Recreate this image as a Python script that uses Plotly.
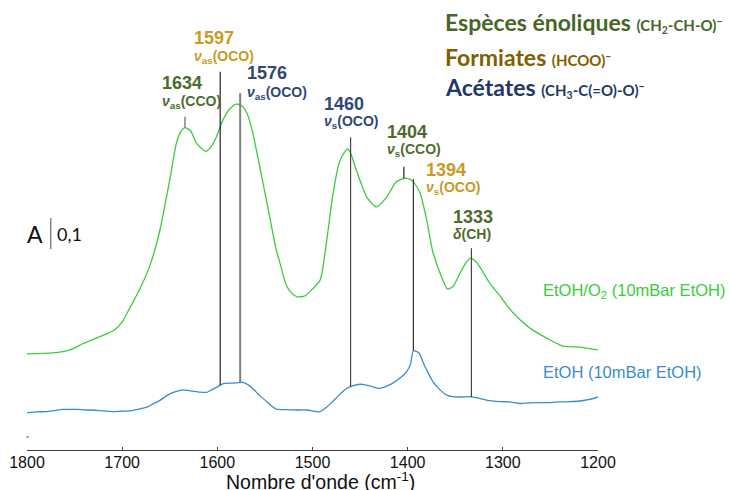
import numpy as np
import plotly.graph_objects as go

# ---- IR spectra (absorbance, spectra stacked on a common axis) ----
wn_etoh_o2 = [1800, 1773, 1755, 1742, 1724, 1708, 1700, 1692, 1682, 1671, 1661, 1650,
              1643, 1638, 1634, 1628, 1622, 1612, 1606, 1601, 1594, 1587, 1580, 1574,
              1569, 1564, 1559, 1552, 1545, 1538, 1533, 1528, 1522, 1516, 1508, 1501,
              1492, 1485, 1479, 1472, 1467, 1463, 1460, 1454, 1443, 1433, 1422, 1412,
              1403, 1398, 1394, 1387, 1380, 1374, 1366, 1358, 1352, 1345, 1339, 1334,
              1329, 1324, 1314, 1303, 1290, 1272, 1254, 1237, 1219, 1200]
abs_etoh_o2 = [0.310, 0.313, 0.323, 0.342, 0.365, 0.387, 0.413, 0.458, 0.516, 0.594, 0.700, 0.871,
               0.990, 1.029, 1.040, 1.029, 0.990, 0.963, 0.981, 1.010, 1.065, 1.100, 1.116, 1.110,
               1.087, 1.039, 0.968, 0.861, 0.752, 0.645, 0.590, 0.535, 0.506, 0.494, 0.497, 0.516,
               0.548, 0.677, 0.816, 0.926, 0.958, 0.971, 0.958, 0.903, 0.816, 0.784, 0.816, 0.865,
               0.877, 0.874, 0.865, 0.829, 0.742, 0.645, 0.571, 0.519, 0.529, 0.571, 0.603, 0.619,
               0.610, 0.590, 0.539, 0.497, 0.445, 0.394, 0.361, 0.335, 0.332, 0.323]

wn_etoh = [1800, 1790, 1779, 1771, 1763, 1755, 1747, 1738, 1731, 1720, 1710, 1701, 1692,
           1684, 1674, 1668, 1661, 1650, 1643, 1636, 1631, 1626, 1619, 1611, 1606, 1601,
           1593, 1584, 1573, 1568, 1563, 1556, 1548, 1543, 1538, 1527, 1517, 1506, 1500,
           1493, 1485, 1479, 1472, 1464, 1457, 1448, 1439, 1429, 1422, 1416, 1408, 1401,
           1397, 1394, 1388, 1384, 1380, 1374, 1366, 1359, 1353, 1343, 1335, 1324, 1314,
           1303, 1293, 1282, 1272, 1261, 1251, 1240, 1230, 1219, 1209, 1200]
abs_etoh = [0.120, 0.123, 0.124, 0.127, 0.131, 0.131, 0.131, 0.129, 0.129, 0.126, 0.124, 0.125, 0.126,
            0.131, 0.138, 0.148, 0.159, 0.181, 0.189, 0.194, 0.192, 0.190, 0.187, 0.186, 0.194, 0.202,
            0.215, 0.216, 0.218, 0.211, 0.199, 0.177, 0.156, 0.142, 0.132, 0.130, 0.129, 0.129, 0.126,
            0.123, 0.139, 0.156, 0.177, 0.199, 0.208, 0.212, 0.206, 0.199, 0.206, 0.215, 0.232, 0.253,
            0.277, 0.320, 0.313, 0.284, 0.258, 0.223, 0.194, 0.177, 0.172, 0.171, 0.172, 0.166, 0.159,
            0.156, 0.155, 0.150, 0.152, 0.153, 0.153, 0.155, 0.156, 0.158, 0.163, 0.171]

# ---- band assignments ----
peak_wn = [1634, 1597, 1576, 1460, 1404, 1394, 1333]
peak_mode = ["<i>ν</i><sub>as</sub>(CCO)", "<i>ν</i><sub>as</sub>(OCO)", "<i>ν</i><sub>as</sub>(OCO)",
             "<i>ν</i><sub>s</sub>(OCO)", "<i>ν</i><sub>s</sub>(CCO)", "<i>ν</i><sub>s</sub>(OCO)",
             "<i>δ</i>(CH)"]
peak_species = ["enol", "formate", "acetate", "acetate", "enol", "formate", "enol"]

species_names = ["Espèces énoliques", "Formiates", "Acétates"]
species_formulas = ["(CH<sub>2</sub>-CH-O)<sup>−</sup>", "(HCOO)<sup>−</sup>", "(CH<sub>3</sub>-C(=O)-O)<sup>−</sup>"]

scale_bar_value = 0.1
tick_values = [1800, 1700, 1600, 1500, 1400, 1300, 1200]

# ---- styling ----
GREEN = "#3ccb3c"
BLUE = "#3a8bd0"
label_color = {"enol": "#4d6b2f", "formate": "#c99a1e", "acetate": "#2e4878"}
legend_color = ["#466628", "#7f6000", "#1f3864"]

# where each marker line starts (top) and which spectrum it ends on
line_top = {1634: 1.075, 1597: 1.220, 1576: 1.151, 1460: 1.009, 1404: 0.914, 1394: 0.873, 1333: 0.651}
line_end = {1634: "o2", 1404: "o2"}
line_style = {1634: ("#808080", 1.5), 1597: ("#222222", 1.2), 1576: ("#808080", 2.0),
              1460: ("#444444", 1.2), 1404: ("#222222", 1.2), 1394: ("#333333", 1.2),
              1333: ("#444444", 1.2)}
# label anchor (left edge wavenumber, number row y, mode row y)
label_pos = {1634: (1660.6, 1.183, 1.123), 1597: (1626.9, 1.328, 1.268), 1576: (1570.7, 1.215, 1.153),
             1460: (1489.5, 1.117, 1.058), 1404: (1424.1, 1.026, 0.968), 1394: (1383.1, 0.903, 0.845),
             1333: (1354.8, 0.753, 0.697)}

FONT = "Liberation Sans, Arial, sans-serif"
CAL = "Lato, Open Sans, sans-serif"

fig = go.Figure()
fig.add_trace(go.Scatter(x=wn_etoh_o2, y=abs_etoh_o2, mode="lines",
                         line=dict(color=GREEN, width=1.3, shape="spline", smoothing=0.6),
                         hoverinfo="skip", showlegend=False))
fig.add_trace(go.Scatter(x=wn_etoh, y=abs_etoh, mode="lines",
                         line=dict(color=BLUE, width=1.3, shape="spline", smoothing=0.6),
                         hoverinfo="skip", showlegend=False))

x_o2 = np.array(wn_etoh_o2[::-1], dtype=float)
y_o2 = np.array(abs_etoh_o2[::-1], dtype=float)
x_b = np.array(wn_etoh[::-1], dtype=float)
y_b = np.array(abs_etoh[::-1], dtype=float)

annotations = []
for wn, mode, sp in zip(peak_wn, peak_mode, peak_species):
    if line_end.get(wn) == "o2":
        y_bottom = float(np.interp(wn, x_o2, y_o2))
    else:
        y_bottom = float(np.interp(wn, x_b, y_b))
    col, w = line_style[wn]
    fig.add_shape(type="line", xref="x", yref="y", x0=wn, x1=wn, y0=y_bottom, y1=line_top[wn],
                  line=dict(color=col, width=w))
    lx, ny, my = label_pos[wn]
    annotations.append(dict(x=lx, y=ny, xref="x", yref="y", xanchor="left", yanchor="middle",
                            text=f"<b>{wn}</b>", showarrow=False,
                            font=dict(family=FONT, size=18, color=label_color[sp])))
    annotations.append(dict(x=lx, y=my, xref="x", yref="y", xanchor="left", yanchor="middle",
                            text=f"<b>{mode}</b>", showarrow=False,
                            font=dict(family=FONT, size=14, color=label_color[sp])))

# species key
for i, (name, formula, col) in enumerate(zip(species_names, species_formulas, legend_color)):
    annotations.append(dict(x=0.729, y=[0.951, 0.874, 0.807][i], xref="paper", yref="paper",
                            xanchor="left", yanchor="middle", showarrow=False,
                            text=f"<b>{name} <span style='font-size:15px'>{formula}</span></b>",
                            font=dict(family=CAL, size=23, color=col)))

# spectrum labels
annotations.append(dict(x=0.900, y=0.353, xref="paper", yref="paper", xanchor="left", yanchor="middle",
                        showarrow=False, text="EtOH/O<sub>2</sub> (10mBar EtOH)",
                        font=dict(family=FONT, size=16.5, color=GREEN)))
annotations.append(dict(x=0.900, y=0.174, xref="paper", yref="paper", xanchor="left", yanchor="middle",
                        showarrow=False, text="EtOH (10mBar EtOH)",
                        font=dict(family=FONT, size=16.5, color=BLUE)))

# absorbance scale bar
bar_x = 1775.1
bar_y0 = 0.648
fig.add_shape(type="line", xref="x", yref="y", x0=bar_x, x1=bar_x, y0=bar_y0, y1=bar_y0 + scale_bar_value,
              line=dict(color="#7f7f7f", width=1.5))
annotations.append(dict(x=bar_x + 17, y=bar_y0 + scale_bar_value / 2, xref="x", yref="y",
                        xanchor="center", yanchor="middle", showarrow=False, text="A",
                        font=dict(family=CAL, size=23, color="#111111")))
annotations.append(dict(x=bar_x - 20, y=bar_y0 + scale_bar_value / 2, xref="x", yref="y",
                        xanchor="center", yanchor="middle", showarrow=False,
                        text=f"{scale_bar_value}".replace(".", ","),
                        font=dict(family=CAL, size=18, color="#111111")))

# x axis title
annotations.append(dict(x=0.514, y=-0.068, xref="paper", yref="paper", xanchor="center", yanchor="middle",
                        showarrow=False, text="Nombre d'onde (cm<sup>-1</sup>)",
                        font=dict(family=FONT, size=19.5, color="#111111")))

# tiny origin mark of the ordinate
fig.add_shape(type="line", xref="paper", yref="paper", x0=-0.001, x1=0.003, y0=0.029, y1=0.029,
              line=dict(color="#333333", width=1))

fig.update_layout(
    width=729, height=490,
    margin=dict(l=27, r=131, t=0, b=40),
    paper_bgcolor="white", plot_bgcolor="white",
    annotations=annotations,
    xaxis=dict(range=[1800, 1200], tickvals=tick_values, ticktext=[str(t) for t in tick_values],
               showgrid=False, zeroline=False, showline=True, linecolor="#404040", linewidth=1,
               ticks="inside", ticklen=3, tickcolor="#404040", ticklabelstandoff=-2,
               tickfont=dict(family=FONT, size=16, color="#111111")),
    yaxis=dict(range=[0, 450 / 310], visible=False, showgrid=False, zeroline=False),
)

fig.write_html("out.html")
